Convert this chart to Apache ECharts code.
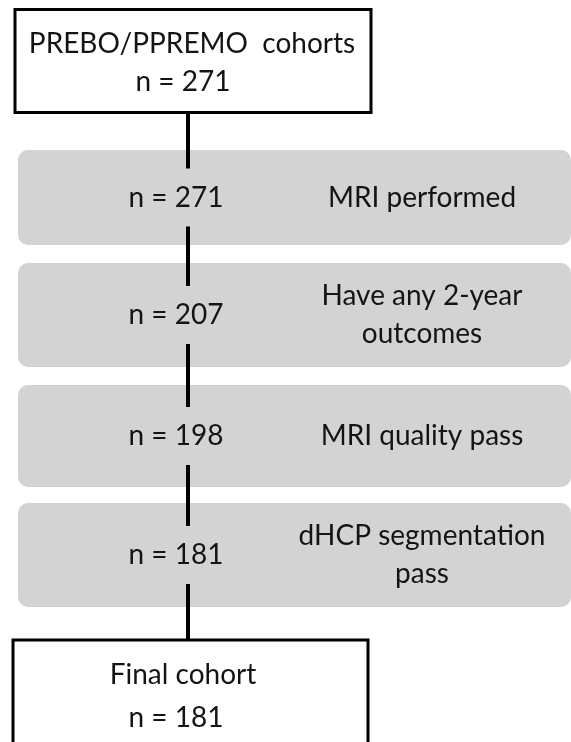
<!DOCTYPE html>
<html>
<head>
<meta charset="utf-8">
<script src="https://cdn.jsdelivr.net/npm/echarts@6/dist/echarts.min.js"></script>
<style>
  body { margin: 0; background: #fff; }
  #chart { width: 571px; height: 742px; }
</style>
</head>
<body>
<div id="chart"></div>
<script>
// flow data
const startLabel = 'PREBO/PPREMO  cohorts';
const startN = 271;
const stepN = [271, 207, 198, 181];
const stepLabels = ['MRI performed', 'Have any 2-year\noutcomes', 'MRI quality pass', 'dHCP segmentation\npass'];
const finalLabel = 'Final cohort';
const finalN = 181;

// layout (pixels)
const boxTop = [150, 263, 385, 503];
const boxBottom = [245, 367, 487, 607];
const lineX = 188;
const font = '28px Lato';
const ink = '#141414';

function buildGraphics() {
  let els = [];
  // grey step boxes
  for (let i = 0; i < stepN.length; i++) {
    els.push({
      type: 'rect', z: 1,
      shape: { x: 18, y: boxTop[i], width: 553, height: boxBottom[i] - boxTop[i], r: 10 },
      style: { fill: '#d3d3d3' }
    });
  }
  // vertical connector, broken where the counts sit
  let y0 = 113;
  for (let i = 0; i < stepN.length; i++) {
    let c = (boxTop[i] + boxBottom[i]) / 2;
    els.push({ type: 'line', z: 2, shape: { x1: lineX, y1: y0, x2: lineX, y2: c - 29 }, style: { stroke: '#000', lineWidth: 4 } });
    y0 = c + 29;
  }
  els.push({ type: 'line', z: 2, shape: { x1: lineX, y1: y0, x2: lineX, y2: 640 }, style: { stroke: '#000', lineWidth: 4 } });

  // top and bottom boxes
  els.push({ type: 'rect', z: 3, shape: { x: 15, y: 9.5, width: 356, height: 103 }, style: { fill: '#fff', stroke: '#000', lineWidth: 3 } });
  els.push({ type: 'rect', z: 3, shape: { x: 13, y: 640, width: 355, height: 130 }, style: { fill: '#fff', stroke: '#000', lineWidth: 3 } });

  const txt = (s, x, y) => ({
    type: 'text', z: 5,
    style: { text: s, x: x, y: y, align: 'center', verticalAlign: 'middle', font: font, fill: ink, lineHeight: 38 }
  });
  els.push(txt(startLabel, 192, 44));
  els.push(txt('n = ' + startN, 183, 82));
  for (let i = 0; i < stepN.length; i++) {
    let c = (boxTop[i] + boxBottom[i]) / 2;
    els.push(txt('n = ' + stepN[i], 176, c));
    els.push(txt(stepLabels[i], 422, c));
  }
  els.push(txt(finalLabel, 183, 675));
  els.push(txt('n = ' + finalN, 176, 718));
  return els;
}

var dom = document.getElementById('chart');
var myChart = echarts.init(dom, null, { renderer: 'canvas' });
var option = {
  animation: false,
  backgroundColor: '#fff',
  graphic: { elements: buildGraphics() }
};
myChart.setOption(option);
</script>
</body>
</html>
